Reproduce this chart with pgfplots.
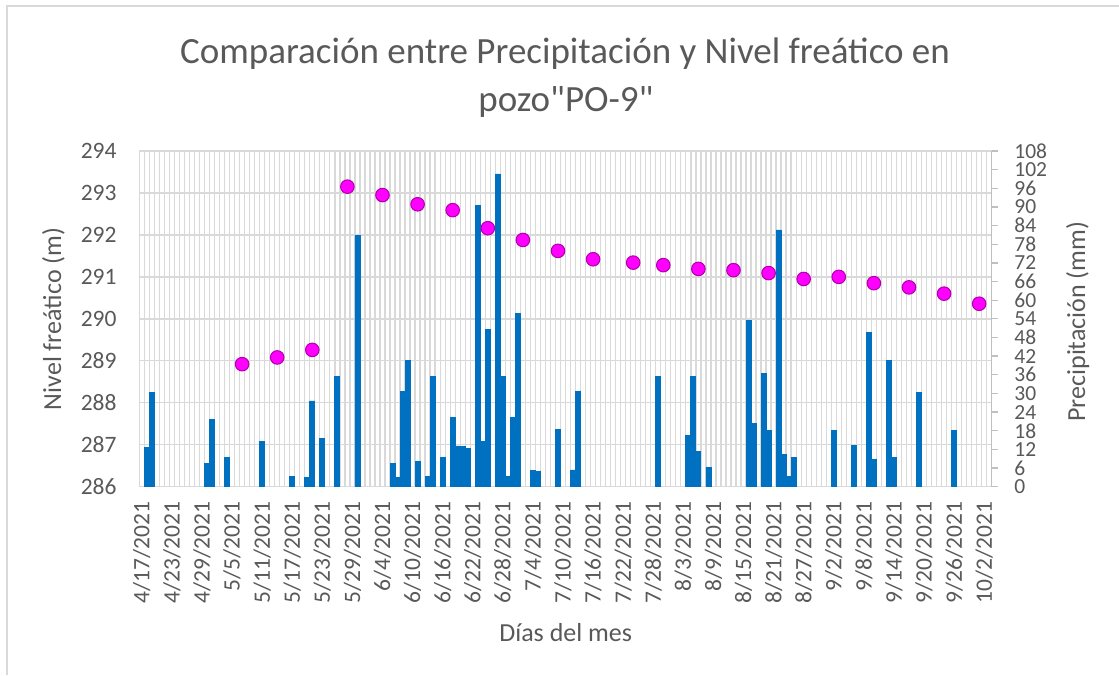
\documentclass[border=0pt]{standalone}
\usepackage{pgfplots}
\pgfplotsset{compat=1.18}
\usepackage{fontspec}
\setmainfont{Carlito}
\newfontfamily\plaincarlito{Carlito}[Ligatures=TeXOff]
\definecolor{txt}{HTML}{595959}
\definecolor{grd}{HTML}{D9D9D9}
\definecolor{axl}{HTML}{BFBFBF}
\definecolor{barc}{HTML}{0070C0}
\definecolor{mag}{HTML}{FF00FF}
\definecolor{magd}{HTML}{B000A8}
\pgfplotsset{base/.style={scale only axis, width=852.4pt, height=335.7pt,
  at={(139.3pt,188.3pt)}, anchor=south west, xmin=-0.5, xmax=169.5}}
\begin{document}
\begin{tikzpicture}[x=1pt,y=1pt]
\useasboundingbox (0,0) rectangle (1119,675);
\draw[grd, line width=1.2pt] (7,0) -- (7,669) -- (1119,669);
% background axis: grid, left scale, dates
\begin{axis}[base, ymin=286, ymax=294, ytick={286,...,294},
  xtick={0,6,...,168},
  xticklabels={4/17/2021,4/23/2021,4/29/2021,5/5/2021,5/11/2021,5/17/2021,5/23/2021,5/29/2021,6/4/2021,6/10/2021,6/16/2021,6/22/2021,6/28/2021,7/4/2021,7/10/2021,7/16/2021,7/22/2021,7/28/2021,8/3/2021,8/9/2021,8/15/2021,8/21/2021,8/27/2021,9/2/2021,9/8/2021,9/14/2021,9/20/2021,9/26/2021,10/2/2021},
  minor xtick={-0.5,0.5,...,169.5},
  xmajorgrids=false, xminorgrids=true, ymajorgrids=true,
  major grid style={grd, line width=1.3pt}, minor grid style={grd, line width=1.3pt},
  axis line style={grd, line width=1.3pt},
  major tick length=0pt, minor tick length=0pt,
  /pgf/number format/assume math mode=true,
  yticklabel style={font=\fontsize{23.5}{28}\selectfont, text=txt, anchor=east, inner sep=0pt},
  yticklabel shift=22.6pt,
  xticklabel style={font=\fontsize{23.5}{28}\selectfont, text=txt, rotate=90, anchor=east, inner sep=0pt},
  xticklabel shift=15pt]
\addplot[draw=none] coordinates {(0,290) (1,290)};
\end{axis}
% bars: precipitation (right axis)
\begin{axis}[base, ymin=0, ymax=108, ytick={0,6,...,108},
  axis y line*=right, axis x line=none, ybar, bar width=1, clip=false,
  y axis line style={axl, line width=1.3pt},
  tick style={axl, line width=1.3pt}, major tick length=6.5pt, tick align=outside,
  /pgf/number format/assume math mode=true,
  yticklabel style={font=\fontsize{21.5}{24}\selectfont, text=txt, anchor=west, inner sep=0pt},
  yticklabel shift=16pt]
\addplot[fill=barc, draw=barc, line width=0.8pt] coordinates {
(1,12.5) (2,30.4) (13,7.5) (14,21.5) (17,9.3) (24,14.5) (30,3.2) (33,2.9) (34,27.6)
(36,15.6) (39,35.6) (43,80.7) (50,7.5) (51,2.9) (52,30.6) (53,40.5) (55,8.0) (57,3.2)
(58,35.6) (60,9.3) (62,22.4) (63,13.1) (64,12.9) (65,12.3) (67,90.6) (68,14.5) (69,50.6)
(71,100.6) (72,35.6) (73,3.4) (74,22.4) (75,55.6) (78,5.2) (79,4.8) (83,18.5) (86,5.4)
(87,30.5) (103,35.5) (109,16.5) (110,35.4) (111,11.4) (113,6.2) (121,53.5) (122,20.4)
(124,36.5) (125,18.2) (127,82.6) (128,10.4) (129,3.4) (130,9.4) (138,18.2) (142,13.4)
(145,49.6) (146,8.8) (149,40.5) (150,9.3) (155,30.4) (162,18.2)};
\end{axis}
% water level points (left axis)
\begin{axis}[base, ymin=286, ymax=294, hide axis, clip=false]
\addplot[only marks, mark=*, mark size=6.8pt, mark options={fill=mag, draw=magd, line width=1pt}] coordinates {
(20,288.92) (27,289.08) (34,289.26) (41,293.15) (48,292.95) (55,292.73) (62,292.59)
(69,292.16) (76,291.88) (83,291.62) (90,291.42) (98,291.34) (104,291.28) (111,291.19)
(118,291.16) (125,291.09) (132,290.95) (139,291.00) (146,290.85) (153,290.75)
(160,290.60) (167,290.36)};
\end{axis}
\node[font=\fontsize{37}{44}\selectfont, text=txt, anchor=base] at (565,611.7) {Comparación entre Precipitación y Nivel freático en};
\node[font=\plaincarlito\fontsize{37}{44}\selectfont, text=txt, anchor=base] at (566,563) {pozo"PO-9"};
\node[font=\fontsize{26}{30}\selectfont, text=txt, anchor=base] at (565.7,33.3) {Días del mes};
\node[font=\fontsize{26}{30}\selectfont, text=txt, rotate=90, anchor=base] at (61,356) {Nivel freático (m)};
\node[font=\fontsize{26}{30}\selectfont, text=txt, rotate=90, anchor=base] at (1085,353.3) {Precipitación (mm)};
\end{tikzpicture}
\end{document}
